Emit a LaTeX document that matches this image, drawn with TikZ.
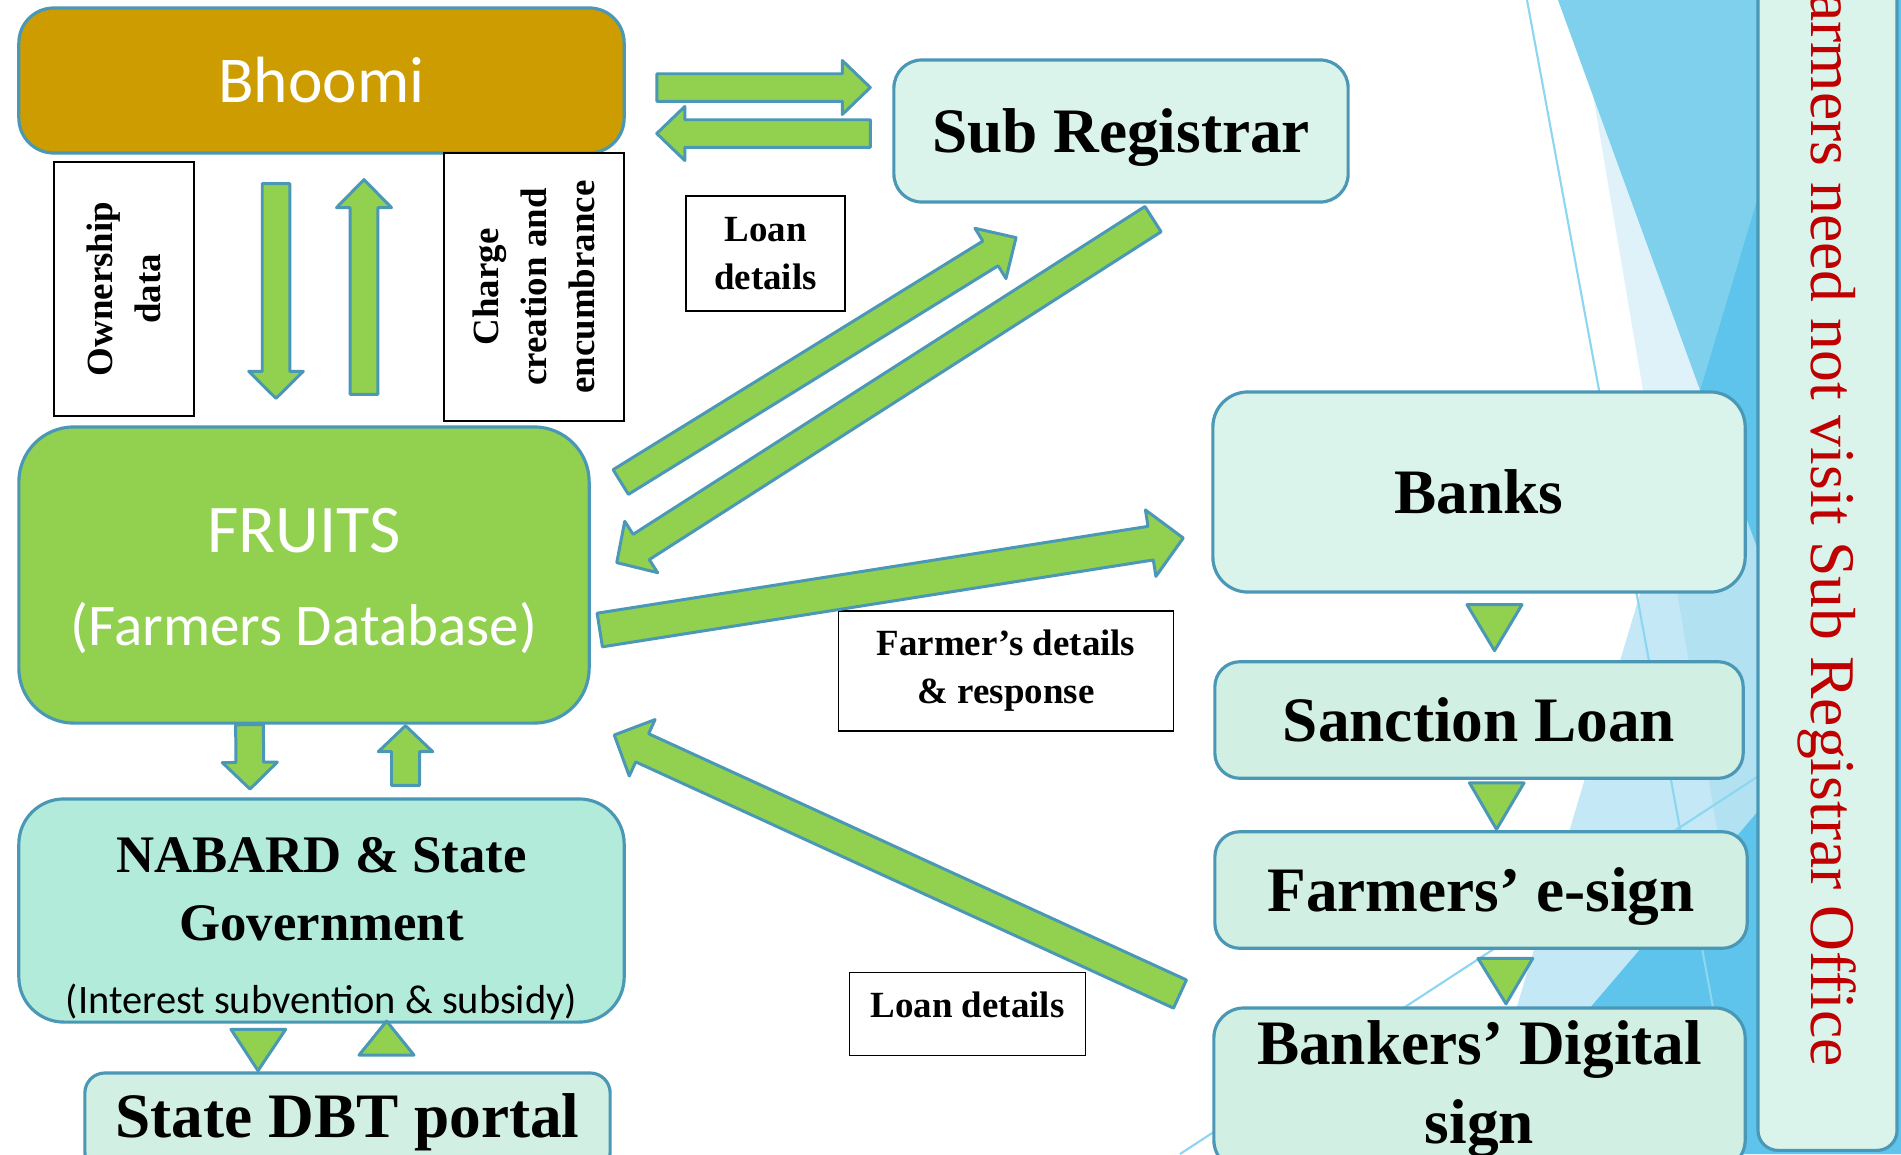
\documentclass[tikz,border=0pt]{standalone}
\usepackage{fontspec}
\setmainfont{Liberation Serif}
\newfontfamily\calibri{Carlito}
\usetikzlibrary{calc}

\definecolor{edge}{HTML}{4A98B5}
\definecolor{gold}{HTML}{CC9C00}
\definecolor{leaf}{HTML}{92D050}
\definecolor{mint}{HTML}{DAF4EC}
\definecolor{mintdark}{HTML}{D1EFE3}
\definecolor{aqua}{HTML}{B3EBDB}
\definecolor{notered}{HTML}{C00000}
\definecolor{facet}{RGB}{122,204,233}
\definecolor{facetmid}{RGB}{126,208,237}
\definecolor{facetdark}{RGB}{94,196,235}
\definecolor{facetline}{RGB}{140,214,242}

% block arrow: start, tip, half shaft, half head, head length
\newcommand{\blockarrow}[5]{%
  \coordinate (ba-h) at ($(#2)!#5!(#1)$);
  \draw[BlockArrow] ($(#1)!#3!90:(#2)$) -- ($(ba-h)!#3!-90:(#1)$) -- ($(ba-h)!#4!-90:(#1)$) -- (#2)
    -- ($(ba-h)!#4!90:(#1)$) -- ($(ba-h)!#3!90:(#1)$) -- ($(#1)!#3!-90:(#2)$) -- cycle;
}

\begin{document}
\begin{tikzpicture}[x=0.01cm, y=-0.01cm]
	\tikzstyle{Box} = [rectangle, draw=edge, line width=0.9pt, text centered, inner sep=0pt]
	\tikzstyle{Label} = [rectangle, draw=black, line width=0.45pt, fill=white, align=center, inner sep=0pt, font=\bfseries\fontsize{10.5}{13.6}\selectfont]
	\tikzstyle{Big} = [font=\bfseries\fontsize{18}{22.4}\selectfont]
	\tikzstyle{BlockArrow} = [draw=edge, fill=leaf, line width=0.85pt, line join=round]
	\tikzstyle{Tri} = [draw=edge, fill=leaf, line width=0.85pt, line join=round]
	
	\useasboundingbox (0,0) rectangle (1901,1154);
	\clip (0,0) rectangle (1901,1154);
	\fill [white] (0,0) rectangle (1901,1154);
	
	% background facets
	\fill [facet, opacity=0.44] (1817,0) -- (1901,0) -- (1901,1154) -- (1473,1154) -- cycle;
	\fill [facet, opacity=0.24] (1577,0) -- (1901,0) -- (1901,1154) -- (1772,1154) -- cycle;
	\fill [facetmid] (1558,0) -- (1901,0) -- (1901,942) -- cycle;
	\fill [facetdark] (1817,0) -- (1901,0) -- (1901,942) -- (1700,391) -- cycle;
	\fill [facetdark] (1901,644) -- (1901,1154) -- (1465,1154) -- cycle;
	\draw [facetline, line width=0.6pt] (1527,0) -- (1740,1154);
	\draw [facetline, line width=0.6pt] (1180,1154) -- (1760,775);
	
	% boxes
	\node (bhoomi) [Box, fill=gold, rounded corners=3.5mm, minimum width=6.05cm, minimum height=1.45cm, text=white, font=\calibri\fontsize{18.6}{22}\selectfont] at (321.5,80.5) {Bhoomi};
	\node (subreg) [Box, Big, fill=mint, rounded corners=2.8mm, minimum width=4.54cm, minimum height=1.42cm, text depth=0pt] at (1121,131) {Sub Registrar};
	\node (fruits) [Box, fill=leaf, rounded corners=5.5mm, minimum width=5.7cm, minimum height=2.96cm, text=white, align=center, text height=15mm, text depth=1mm, font=\calibri\fontsize{19.4}{26.4}\selectfont] at (304,575) {FRUITS\\{\fontsize{16.8}{26.4}\selectfont (Farmers Database)}};
	\node (banks) [Box, Big, fill=mint, rounded corners=3.5mm, minimum width=5.32cm, minimum height=2cm] at (1479,492) {Banks};
	\node (sanction) [Box, Big, fill=mintdark, rounded corners=2.5mm, minimum width=5.28cm, minimum height=1.165cm] at (1479,720) {Sanction Loan};
	\node (esign) [Box, Big, fill=mintdark, rounded corners=2.5mm, minimum width=5.32cm, minimum height=1.165cm, text depth=0pt] at (1481,890) {Farmers’ e-sign};
	\node (bankers) [Box, Big, fill=mintdark, rounded corners=3mm, minimum width=5.31cm, minimum height=1.62cm, align=center, font=\bfseries\fontsize{18}{22.4}\selectfont] at (1479.5,1089) {Bankers’ Digital\\sign};
	\node (nabard) [Box, fill=aqua, rounded corners=4.5mm, minimum width=6.05cm, minimum height=2.23cm, align=center, text height=21.4mm, text depth=0.9mm, font=\bfseries\fontsize{15}{19.3}\selectfont] at (321.5,910.5) {NABARD \& State\\Government\\[1.4pt]{\calibri\mdseries\fontsize{11.5}{19.3}\selectfont (Interest subvention \& subsidy)}};
	\node (dbt) [Box, Big, fill=mintdark, rounded corners=2mm, minimum width=5.25cm, minimum height=0.99cm] at (347.5,1122.5) {State DBT portal};
	\node (note) [Box, fill=mint, rounded corners=2mm, rotate=-90, minimum width=12.75cm, minimum height=1.39cm, text=notered, font=\fontsize{18.1}{20}\selectfont] at (1827.5,512.5) {Farmers need not visit Sub Registrar Office};
	
	% labels
	\node (own) [Label, rotate=90, minimum width=2.54cm, minimum height=1.4cm] at (124,289) {Ownership\\data};
	\node (charge) [Label, rotate=90, minimum width=2.68cm, minimum height=1.8cm] at (534,287) {Charge\\creation and\\encumbrance};
	\node (loan1) [Label, minimum width=1.59cm, minimum height=1.15cm] at (765.5,253.5) {Loan\\details};
	\node (details) [Label, minimum width=3.35cm, minimum height=1.2cm] at (1006,671) {Farmer’s details\\\& response};
	\node (loan2) [Label, minimum width=2.36cm, minimum height=0.83cm, text depth=1.8mm] at (967.6,1014) {Loan details};
	
	% arrow ends
	\coordinate (a1s) at ($(bhoomi.south)+(-45.5,29)$);
	\coordinate (a1e) at ($(fruits.north)+(-28,-27)$);
	\coordinate (a2s) at ($(fruits.north)+(60,-31)$);
	\coordinate (a2e) at ($(bhoomi.south)+(42.5,25)$);
	\coordinate (a3s) at ($(bhoomi.east)+(31,7)$);
	\coordinate (a3e) at ($(subreg.west)+(-22,-43.5)$);
	\coordinate (a4s) at ($(subreg.west)+(-22,2.5)$);
	\coordinate (a4e) at ($(bhoomi.east)+(31,53)$);
	\coordinate (a5s) at ($(fruits.east)+(30,-93)$);
	\coordinate (a5e) at ($(subreg.south)+(-105,34)$);
	\coordinate (a6s) at ($(subreg.south)+(32,15.5)$);
	\coordinate (a6e) at ($(fruits.east)+(26,-12.4)$);
	\coordinate (a7s) at ($(fruits.east)+(9,55)$);
	\coordinate (a7e) at ($(banks.west)+(-28,46)$);
	\coordinate (a8s) at ($(bankers.west)+(-32.3,-95)$);
	\coordinate (a8e) at ($(fruits.east)+(23.5,160)$);
	\coordinate (a9s) at ($(fruits.south)+(-54.5,0)$);
	\coordinate (a9e) at ($(nabard.north)+(-71.5,-8.3)$);
	\coordinate (a10s) at ($(nabard.north)+(84,-12)$);
	\coordinate (a10e) at ($(fruits.south)+(101.5,1)$);
	
	% block arrows
	\blockarrow{a1s}{a1e}{1.375mm}{2.73mm}{2.7mm}
	\blockarrow{a2s}{a2e}{1.385mm}{2.75mm}{2.8mm}
	\blockarrow{a3s}{a3e}{1.375mm}{2.7mm}{2.8mm}
	\blockarrow{a4s}{a4e}{1.375mm}{2.7mm}{2.8mm}
	\blockarrow{a5s}{a5e}{1.45mm}{2.95mm}{3mm}
	\blockarrow{a6s}{a6e}{1.5mm}{3.05mm}{2.9mm}
	\blockarrow{a7s}{a7e}{1.7mm}{3.36mm}{3.3mm}
	\blockarrow{a8s}{a8e}{1.55mm}{3.1mm}{3.07mm}
	\blockarrow{a9s}{a9e}{1.385mm}{2.75mm}{2.67mm}
	\blockarrow{a10s}{a10e}{1.4mm}{2.72mm}{2.6mm}
	
	% small heads between boxes
	\draw [Tri] ($(banks.south)+(-12,11)$) -- ++(55,0) -- ++(-27.5,46) -- cycle;
	\draw [Tri] ($(sanction.south)+(-9.5,3)$) -- ++(54.5,0) -- ++(-27.5,46.5) -- cycle;
	\draw [Tri] ($(esign.south)+(-3,8.6)$) -- ++(54.7,0) -- ++(-26.7,45.4) -- cycle;
	\draw [Tri] ($(nabard.south)+(-90.5,5.7)$) -- ++(54.7,0) -- ++(-27.7,41.3) -- cycle;
	\draw [Tri] ($(dbt.north)+(11.5,-16.3)$) -- ++(55,0) -- ++(-27.4,-34) -- cycle;
\end{tikzpicture}
\end{document}
